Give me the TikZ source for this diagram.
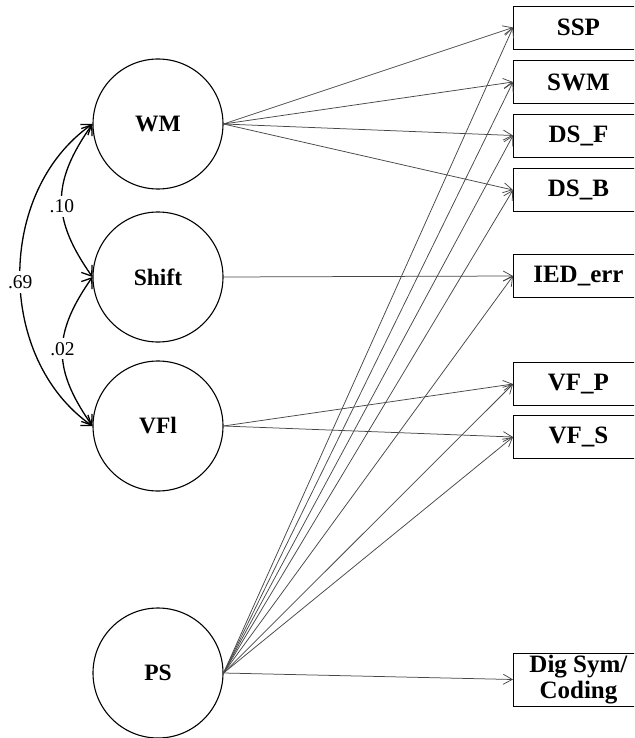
\documentclass[tikz,border=0pt]{standalone}
\usepackage{fontspec}
\setmainfont{Liberation Serif}
\usetikzlibrary{arrows.meta}
\begin{document}
\begin{tikzpicture}[x=1pt,y=-1pt,
  latent/.style={circle,draw=black,line width=1.1pt,minimum size=130pt,inner sep=0pt,font=\fontsize{23.5}{26}\selectfont\bfseries},
  obs/.style={rectangle,draw=black,line width=0.9pt,minimum width=130pt,minimum height=43pt,inner sep=0pt,anchor=west,font=\fontsize{25}{26}\selectfont\bfseries},
  path/.style={draw=black!72,line width=0.75pt,-{Straight Barb[length=9pt,width=10pt]}},
  cov/.style={draw=black,line width=1.3pt,{Straight Barb[length=9pt,width=13pt]}-{Straight Barb[length=9pt,width=13pt]}},
  coef/.style={fill=white,inner xsep=1pt,inner ysep=4pt,font=\fontsize{19.5}{21}\selectfont}]
\clip (0,0) rectangle (634,738);
\fill[white] (0,0) rectangle (634,738);
\node[latent] (WM) at (158,124) {WM};
\node[latent] (Shift) at (158,277) {Shift};
\node[latent] (VFl) at (158,426) {VFl};
\node[latent] (PS) at (158,673) {PS};
\node[obs] (SSP) at (513,27.5) {SSP};
\node[obs] (SWM) at (513,82) {SWM};
\node[obs] (DSF) at (513,135.5) {DS\_F};
\node[obs] (DSB) at (513,190) {DS\_B};
\node[obs] (IED) at (513,276) {IED\_err};
\node[obs] (VFP) at (513,384) {VF\_P};
\node[obs] (VFS) at (513,437) {VF\_S};
\node[obs,minimum height=53pt,align=center] (DIG) at (513,679.5) {Dig Sym/\\Coding};
\foreach \t in {SSP,SWM,DSF,DSB} {\draw[path] (WM.east) -- (\t.west);}
\draw[path] (Shift.east) -- (IED.west);
\foreach \t in {VFP,VFS} {\draw[path] (VFl.east) -- (\t.west);}
\foreach \t in {SSP,SWM,DSF,DSB,IED,VFP,VFS,DIG} {\draw[path] (PS.east) -- (\t.west);}
\draw[cov] (WM.west) to[out=235,in=125,looseness=1.2] node[coef,pos=0.54]{.10} (Shift.west);
\draw[cov] (Shift.west) to[out=235,in=125,looseness=1.2] node[coef,pos=0.48]{.02} (VFl.west);
\draw[cov] (WM.west) to[out=215,in=145,looseness=1] node[coef,pos=0.52]{.69} (VFl.west);
\end{tikzpicture}
\end{document}
